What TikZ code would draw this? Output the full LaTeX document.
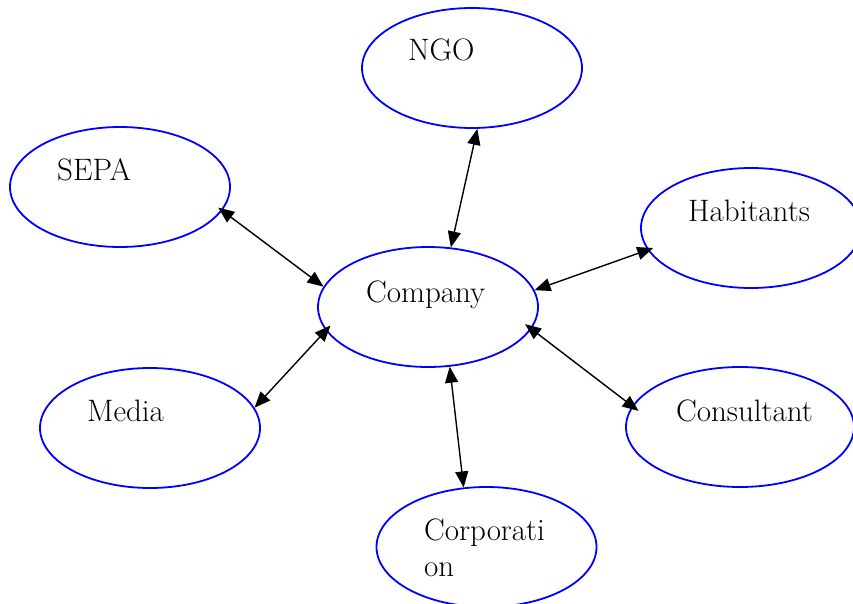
\documentclass[tikz,border=0pt]{standalone}
\usepackage{fontspec}
\usetikzlibrary{shapes.geometric,arrows.meta}
\tikzset{
  party/.style={ellipse,draw={rgb,255:red,0;green,0;blue,255},line width=1.8pt,
    minimum width=220pt,minimum height=120pt,inner sep=0pt},
  lbl/.style={anchor=base west,inner sep=0pt,font=\fontsize{31}{35.5}\selectfont,align=left},
  link/.style={line width=1.4pt,{Triangle[length=16pt,width=13pt]}-{Triangle[length=16pt,width=13pt]}}
}
\begin{document}
\begin{tikzpicture}[x=1pt,y=-1pt]
\useasboundingbox (0,0) rectangle (853,604);
% stakeholder ellipses
\node[party] (ngo)   at (472,68)    {};
\node[party] (sepa)  at (120,187)   {};
\node[party] (hab)   at (751,228)   {};
\node[party] (comp)  at (428,307)   {};
\node[party] (media) at (150,428)   {};
\node[party,minimum width=228pt] (cons) at (740,427) {};
\node[party] (corp)  at (486.5,547) {};
% labels
\node[lbl] (ngo-t)   at (408,61)  {NGO};
\node[lbl] (sepa-t)  at (57,181)  {SEPA};
\node[lbl] (hab-t)   at (688,221) {Habitants};
\node[lbl] (comp-t)  at (366,302) {Company};
\node[lbl] (media-t) at (87,421)  {Media};
\node[lbl] (cons-t)  at (676,421) {Consultant};
\node[lbl] (corp-t)  at (424,576) {Corporati\\on};
% two-way links to the company; heads reach slightly into the ellipses
\draw[link] (ngo.-85)    -- (comp.69);
\draw[link,shorten <=-5pt] (sepa.-13) -- (comp.169);
\draw[link,shorten <=-6pt] (hab.-168) -- (comp.9);
\draw[link,shorten <=-8pt,shorten >=-8pt] (cons.169) -- (comp.-12);
\draw[link,shorten >=-7pt] (media.11) -- (comp.-167);
\draw[link] (corp.111)   -- (comp.-70);
\end{tikzpicture}
\end{document}
